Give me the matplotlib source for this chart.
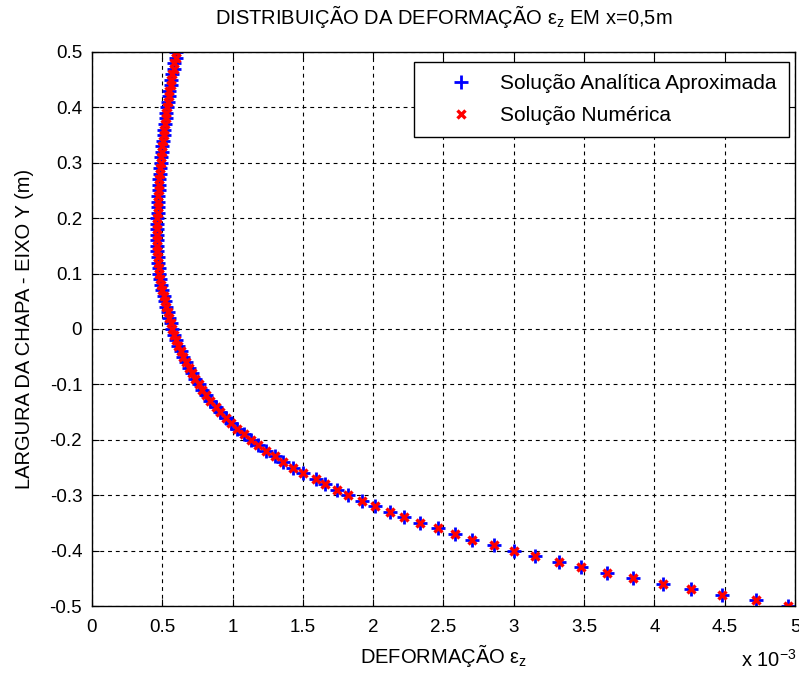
import matplotlib
matplotlib.use("Agg")
import matplotlib.pyplot as plt
import numpy as np

# y positions across the plate width (m)
y_pos = np.round(np.arange(-0.50, 0.5001, 0.01), 2)

# strain eps_z, in units of 1e-3 (bottom -> top)
eps_z_e3 = [
    4.95, 4.72, 4.48, 4.26, 4.06, 3.85, 3.66, 3.48, 3.32, 3.15,
    3.00, 2.86, 2.70, 2.58, 2.46, 2.33, 2.22, 2.12, 2.01, 1.92,
    1.82, 1.74, 1.66, 1.59, 1.50, 1.43, 1.36, 1.30, 1.24, 1.18,
    1.13, 1.08, 1.03, 0.99, 0.95, 0.91, 0.88, 0.84, 0.81, 0.78,
    0.76, 0.73, 0.71, 0.69, 0.67, 0.65, 0.63, 0.615, 0.60, 0.585,
    0.57, 0.56, 0.55, 0.54, 0.53, 0.52, 0.51, 0.50, 0.49, 0.485,
    0.48, 0.475, 0.47, 0.47, 0.465, 0.465, 0.465, 0.465, 0.465, 0.465,
    0.465, 0.467, 0.47, 0.47, 0.472, 0.475, 0.477, 0.48, 0.482, 0.485,
    0.488, 0.49, 0.495, 0.50, 0.505, 0.51, 0.515, 0.52, 0.525, 0.53,
    0.535, 0.54, 0.545, 0.55, 0.56, 0.565, 0.57, 0.58, 0.585, 0.595,
    0.60,
]

x_ticks = [0, 0.5, 1, 1.5, 2, 2.5, 3, 3.5, 4, 4.5, 5]
x_ticklabels = ["0", "0.5", "1", "1.5", "2", "2.5", "3", "3.5", "4", "4.5", "5"]
y_ticks = [-0.5, -0.4, -0.3, -0.2, -0.1, 0, 0.1, 0.2, 0.3, 0.4, 0.5]
y_ticklabels = ["-0.5", "-0.4", "-0.3", "-0.2", "-0.1", "0", "0.1", "0.2", "0.3", "0.4", "0.5"]

plt.rcParams["font.family"] = ["Liberation Sans", "DejaVu Sans"]
plt.rcParams["mathtext.fontset"] = "custom"
plt.rcParams["mathtext.rm"] = "Liberation Sans"
plt.rcParams["mathtext.it"] = "Liberation Sans:italic"

FS = 14.5     # labels / title
TFS = 13.5    # tick labels
LFS = 15      # legend

fig = plt.figure(figsize=(7.99, 6.75), dpi=100)
ax = fig.add_axes([0.1151, 0.1022, 0.8799, 0.8208])

ax.plot(eps_z_e3, y_pos, linestyle="none", marker="+", color="#0000ff",
        markersize=10, markeredgewidth=2.0, label="Solução Analítica Aproximada")
ax.plot(eps_z_e3, y_pos, linestyle="none", marker="x", color="#ff0000",
        markersize=5.5, markeredgewidth=2.4, label="Solução Numérica")

ax.set_xlim(0, 5)
ax.set_ylim(-0.5, 0.5)
ax.set_xticks(x_ticks)
ax.set_xticklabels(x_ticklabels)
ax.set_yticks(y_ticks)
ax.set_yticklabels(y_ticklabels)
ax.tick_params(direction="in", top=True, right=True, labelsize=TFS,
               length=5, width=0.8)
ax.tick_params(axis="x", pad=9)
ax.tick_params(axis="y", pad=7)
ax.grid(True, color="black", linestyle=(0, (3.5, 3.5)), linewidth=0.8)
for s in ax.spines.values():
    s.set_linewidth(1.0)

ax.set_title(r"DISTRIBUIÇÃO DA DEFORMAÇÃO $\mathregular{\varepsilon_z}$ EM x=0,5m",
             fontsize=FS, pad=20)
ax.set_xlabel(r"DEFORMAÇÃO $\mathregular{\varepsilon_z}$", fontsize=FS, labelpad=5)
ax.set_ylabel("LARGURA DA CHAPA - EIXO Y (m)", fontsize=FS, labelpad=11)
fig.text(0.928, 0.006, r"x 10$^{\mathregular{-3}}$", fontsize=FS, ha="left", va="bottom")

leg = ax.legend(loc="upper right", fontsize=LFS, frameon=True, fancybox=False,
                edgecolor="black", framealpha=1, handlelength=3.3,
                handletextpad=0.25, borderpad=0.6, labelspacing=0.6,
                borderaxespad=0.0, bbox_to_anchor=(0.992, 0.982))
leg.get_frame().set_linewidth(1.0)

fig.savefig("out.png", dpi=100)
